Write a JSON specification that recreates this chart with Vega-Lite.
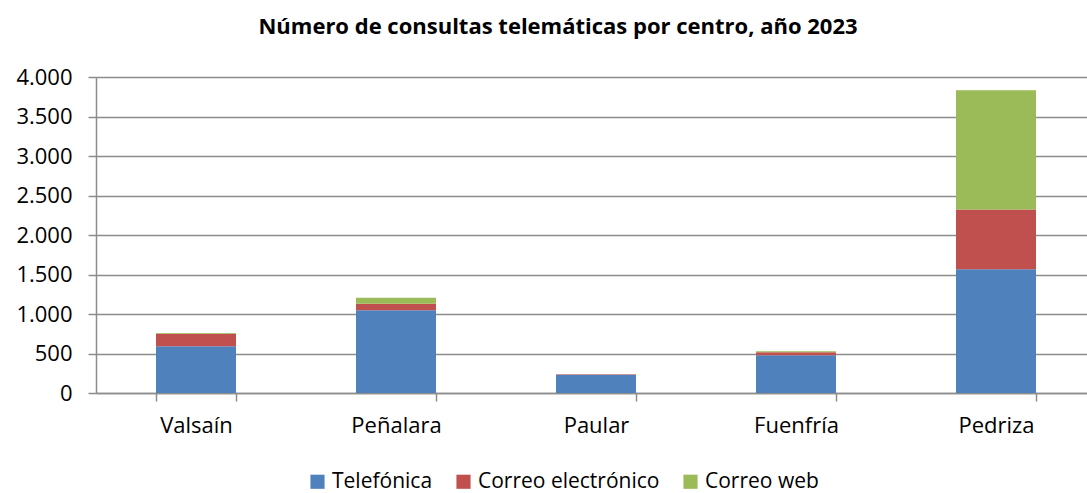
{
  "$schema": "https://vega.github.io/schema/vega-lite/v6.json",
  "autosize": "none",
  "width": 1000,
  "height": 316,
  "padding": {"left": 96, "top": 77, "right": 0, "bottom": 100},
  "background": "white",
  "config": {
    "font": "Open Sans",
    "view": {"stroke": null}
  },
  "title": {
    "text": "Número de consultas telemáticas por centro, año 2023",
    "fontSize": 22,
    "fontWeight": "bold",
    "font": "Open Sans",
    "color": "#000000",
    "anchor": "middle",
    "dx": -38,
    "offset": 27
  },
  "data": {
    "values": [
      {"centro": "Valsaín", "tipo": "Telefónica", "orden": 1, "consultas": 593},
      {"centro": "Valsaín", "tipo": "Correo electrónico", "orden": 2, "consultas": 157},
      {"centro": "Valsaín", "tipo": "Correo web", "orden": 3, "consultas": 10},
      {"centro": "Peñalara", "tipo": "Telefónica", "orden": 1, "consultas": 1047},
      {"centro": "Peñalara", "tipo": "Correo electrónico", "orden": 2, "consultas": 84},
      {"centro": "Peñalara", "tipo": "Correo web", "orden": 3, "consultas": 76},
      {"centro": "Paular", "tipo": "Telefónica", "orden": 1, "consultas": 232},
      {"centro": "Paular", "tipo": "Correo electrónico", "orden": 2, "consultas": 6},
      {"centro": "Paular", "tipo": "Correo web", "orden": 3, "consultas": 0},
      {"centro": "Fuenfría", "tipo": "Telefónica", "orden": 1, "consultas": 479},
      {"centro": "Fuenfría", "tipo": "Correo electrónico", "orden": 2, "consultas": 38},
      {"centro": "Fuenfría", "tipo": "Correo web", "orden": 3, "consultas": 13},
      {"centro": "Pedriza", "tipo": "Telefónica", "orden": 1, "consultas": 1566},
      {"centro": "Pedriza", "tipo": "Correo electrónico", "orden": 2, "consultas": 756},
      {"centro": "Pedriza", "tipo": "Correo web", "orden": 3, "consultas": 1510}
    ]
  },
  "mark": {"type": "bar"},
  "encoding": {
    "x": {
      "field": "centro",
      "type": "nominal",
      "sort": ["Valsaín", "Peñalara", "Paular", "Fuenfría", "Pedriza"],
      "scale": {"paddingInner": 0.6, "paddingOuter": 0.3},
      "axis": {
        "title": null,
        "labelAngle": 0,
        "labelFontSize": 22,
        "labelColor": "#000000",
        "labelPadding": 14,
        "tickBand": "extent",
        "ticks": true,
        "tickSize": 8,
        "tickColor": "#8c8c8c",
        "tickWidth": 1.5,
        "domainColor": "#8c8c8c",
        "domainWidth": 1.5,
        "grid": false
      }
    },
    "y": {
      "field": "consultas",
      "type": "quantitative",
      "aggregate": "sum",
      "stack": "zero",
      "scale": {"domain": [0, 4000], "nice": false},
      "axis": {
        "title": null,
        "values": [0, 500, 1000, 1500, 2000, 2500, 3000, 3500, 4000],
        "labelExpr": "replace(format(datum.value, ','), ',', '.')",
        "labelFontSize": 22,
        "labelColor": "#000000",
        "labelPadding": 16,
        "tickSize": 8,
        "tickColor": "#8c8c8c",
        "tickWidth": 1.5,
        "domainColor": "#8c8c8c",
        "domainWidth": 1.5,
        "grid": true,
        "gridColor": "#8c8c8c",
        "gridWidth": 1.5
      }
    },
    "color": {
      "field": "tipo",
      "type": "nominal",
      "scale": {
        "domain": ["Telefónica", "Correo electrónico", "Correo web"],
        "range": ["#4F81BD", "#C0504D", "#9BBB59"]
      },
      "legend": {
        "title": null,
        "orient": "none",
        "legendX": 211,
        "legendY": 394,
        "direction": "horizontal",
        "symbolType": "square",
        "symbolSize": 200,
        "symbolStrokeWidth": 0,
        "labelFontSize": 21,
        "labelColor": "#000000",
        "labelLimit": 400,
        "columnPadding": 20,
        "labelOffset": 4
      }
    },
    "order": {"field": "orden", "type": "quantitative", "sort": "ascending"}
  }
}
